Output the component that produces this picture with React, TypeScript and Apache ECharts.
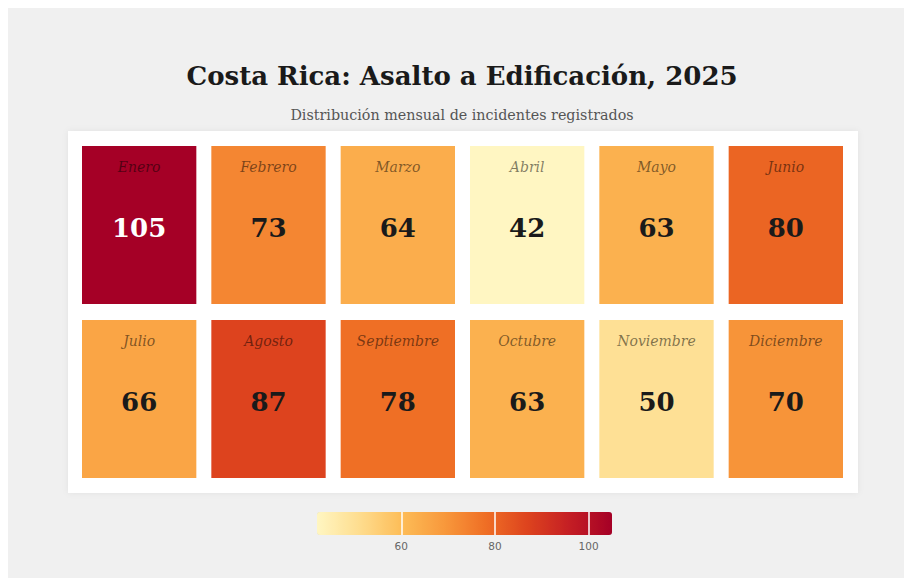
import React, { useEffect, useRef } from 'react';
import * as echarts from 'echarts';

const chartTitle = 'Costa Rica: Asalto a Edificación, 2025';
const chartSubtitle = 'Distribución mensual de incidentes registrados';
const monthNames = ['Enero', 'Febrero', 'Marzo', 'Abril', 'Mayo', 'Junio', 'Julio', 'Agosto', 'Septiembre', 'Octubre', 'Noviembre', 'Diciembre'];
const incidents = [105, 73, 64, 42, 63, 80, 66, 87, 78, 63, 50, 70];
const columnKeys = ['c1', 'c2', 'c3', 'c4', 'c5', 'c6'];
const rowKeys = ['r1', 'r2'];
const legendTicks = [60, 80, 100];
const colorStops = ['#fff6c2', '#fedd8f', '#fdbd58', '#f8993c', '#ef6f25', '#dd431e', '#c41e24', '#a50026'];

const serif = "Georgia, 'DejaVu Serif', serif";

export default function App() {
  const ref = useRef<HTMLDivElement>(null);
  useEffect(() => {
    if (!ref.current) return;
    document.documentElement.style.overflow = 'hidden';
    document.body.style.overflow = 'hidden';
    const chart = echarts.init(ref.current, undefined, { renderer: 'svg' });
    const minV = Math.min(...incidents);
    const maxV = Math.max(...incidents);
    const data = incidents.map((v, i) => [i % columnKeys.length, Math.floor(i / columnKeys.length), v]);
    chart.setOption({
      animation: false,
      backgroundColor: '#f0f0f0',
      graphic: [
        { type: 'rect', z: 0, shape: { x: 60, y: 123, width: 790, height: 362 }, style: { fill: '#ffffff', shadowBlur: 6, shadowColor: 'rgba(0,0,0,0.06)' } },
        { type: 'text', z: 5, x: 454, y: 68, style: { text: chartTitle, align: 'center', verticalAlign: 'middle', fontFamily: serif, fontWeight: 'bold', fontSize: 26, fill: '#1a1a1a' } },
        { type: 'text', z: 5, x: 454, y: 107, style: { text: chartSubtitle, align: 'center', verticalAlign: 'middle', fontFamily: serif, fontSize: 14.3, fill: '#555555' } },
      ],
      grid: [
        { left: 66.5, top: 130, width: 776, height: 348 },
        { left: 309, top: 504, width: 295, height: 23 },
      ],
      xAxis: [
        { type: 'category', gridIndex: 0, data: columnKeys, show: false },
        {
          type: 'value', gridIndex: 1, min: minV, max: maxV, z: 10,
          axisLine: { show: false }, splitLine: { show: false },
          axisTick: { show: true, inside: true, length: 23, customValues: legendTicks, lineStyle: { color: '#ffffff', width: 1.5 } },
          axisLabel: { customValues: legendTicks, margin: 5, color: '#666666', fontSize: 10.5, fontFamily: "'DejaVu Sans', sans-serif" },
        },
      ],
      yAxis: [
        { type: 'category', gridIndex: 0, data: rowKeys, inverse: true, show: false },
        { type: 'value', gridIndex: 1, show: false },
      ],
      visualMap: {
        type: 'continuous', min: minV, max: maxV, orient: 'horizontal', left: 309, top: 504,
        itemWidth: 23, itemHeight: 295, padding: 0, calculable: false, seriesIndex: 0, dimension: 2,
        inRange: { color: colorStops },
      },
      series: [
        {
          type: 'custom', xAxisIndex: 0, yAxisIndex: 0, encode: { x: 0, y: 1 },
          data,
          renderItem: (params: any, api: any) => {
            const col = api.value(0);
            const row = api.value(1);
            const val = api.value(2);
            const c = api.coord([col, row]);
            const band = api.size([1, 1]);
            const w = band[0] - 15;
            const h = band[1] - 16;
            const x0 = c[0] - w / 2;
            const y0 = c[1] - h / 2;
            return {
              type: 'group',
              children: [
                { type: 'rect', shape: { x: x0, y: y0, width: w, height: h }, style: { fill: api.visual('color') } },
                { type: 'text', x: c[0], y: y0 + 21, style: { text: monthNames[params.dataIndex], align: 'center', verticalAlign: 'middle', fontFamily: serif, fontStyle: 'italic', fontSize: 14, fill: 'rgba(0,0,0,0.5)' } },
                { type: 'text', x: c[0], y: c[1] + 3, style: { text: String(val), align: 'center', verticalAlign: 'middle', fontFamily: serif, fontWeight: 'bold', fontSize: 26, fill: val >= 95 ? '#ffffff' : '#1a1a1a' } },
              ],
            };
          },
        },
      ],
    });
    return () => chart.dispose();
  }, []);
  return <div ref={ref} style={{ position: 'fixed', left: 8, top: 8, width: 904, height: 578 }} />;
}
